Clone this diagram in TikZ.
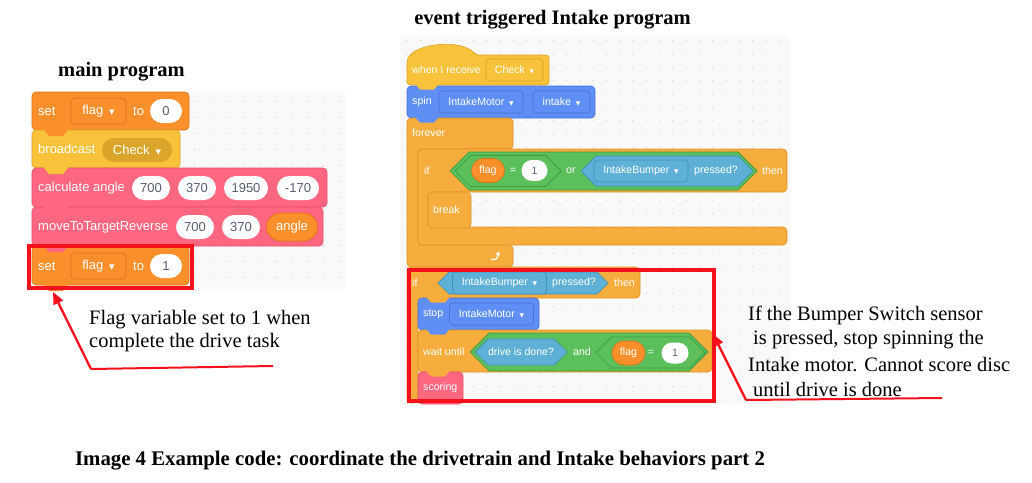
\documentclass[tikz,border=0pt]{standalone}
\usepackage{fontspec}
\usepackage{graphicx}
\setmainfont{Liberation Serif}
\newfontfamily\sansf{Liberation Sans}
\newfontfamily\dvf{DejaVu Sans}
\usetikzlibrary{shapes.misc,arrows.meta}
\definecolor{varor}{HTML}{FA8F2C}
\definecolor{varorD}{HTML}{DE7414}
\definecolor{evy}{HTML}{F8C23A}
\definecolor{evyD}{HTML}{DBA42A}
\definecolor{myp}{HTML}{FF6680}
\definecolor{mypD}{HTML}{E64D6A}
\definecolor{mot}{HTML}{5F8FF6}
\definecolor{motD}{HTML}{4A72D6}
\definecolor{ctl}{HTML}{F7AD3D}
\definecolor{ctlD}{HTML}{DB9322}
\definecolor{opg}{HTML}{5BC05B}
\definecolor{opgD}{HTML}{3E9B3E}
\definecolor{sen}{HTML}{5FB0D6}
\definecolor{senD}{HTML}{3F91BC}
\definecolor{bgc}{HTML}{F9F9F9}
\definecolor{dotc}{HTML}{D4D4D4}
\definecolor{numc}{HTML}{575E75}
\definecolor{annred}{HTML}{F5101E}
\newcommand\dd{\hspace{0.45em}{\dvf\scalebox{0.55}{▼}}}
\newcommand\hexa[6]{\path[fill=#5, draw=#6, line width=.7pt] (#1,{(#2+#4)/2}) -- ({#1+(#4-#2)/2},#2) -- ({#3-(#4-#2)/2},#2) -- (#3,{(#2+#4)/2}) -- ({#3-(#4-#2)/2},#4) -- ({#1+(#4-#2)/2},#4) -- cycle;}
\newcommand\tabL[3]{\fill[#3] ({#1+12},{#2-1.5}) -- ({#1+12},{#2}) -- ({#1+17},{#2+6}) -- ({#1+31},{#2+6}) -- ({#1+36},{#2}) -- ({#1+36},{#2-1.5}) -- cycle;}
\newcommand\tabR[3]{\fill[#3] ({#1+9},{#2-1.5}) -- ({#1+9},{#2}) -- ({#1+13},{#2+4.5}) -- ({#1+27},{#2+4.5}) -- ({#1+31},{#2}) -- ({#1+31},{#2-1.5}) -- cycle;}
\tikzset{
  blk/.style={rounded corners=4pt, line width=.6pt},
  lblL/.style={font=\sansf\fontsize{13}{15}\selectfont, text=white, inner sep=0pt, anchor=west},
  lblR/.style={font=\sansf\fontsize{10.6}{12}\selectfont, text=white, inner sep=0pt, anchor=west},
  ddL/.style={font=\sansf\fontsize{13}{15}\selectfont, text=white, rounded corners=4pt, minimum height=26pt, inner sep=0pt, line width=.7pt},
  ddR/.style={font=\sansf\fontsize{10.6}{12}\selectfont, text=white, rounded corners=3.5pt, minimum height=22pt, inner sep=0pt, line width=.7pt},
  pillL/.style={rounded rectangle, font=\sansf\fontsize{13}{15}\selectfont, text=white, minimum height=24pt, inner sep=0pt, line width=.7pt},
  pillR/.style={rounded rectangle, font=\sansf\fontsize{10.6}{12}\selectfont, text=white, minimum height=22pt, inner sep=0pt, line width=.7pt},
  wpillL/.style={pillL, fill=white, text=numc},
  wpillR/.style={pillR, fill=white, text=numc, minimum height=21pt},
  ann/.style={font=\fontsize{20.5}{24}\selectfont, inner sep=0pt, anchor=west},
  ttl/.style={font=\bfseries\fontsize{20.5}{24}\selectfont, inner sep=0pt},
  redbox/.style={draw=annred, line width=3.5pt, inner sep=0pt},
  redarrow/.style={draw=annred, line width=2.3pt, -{Triangle[length=12pt,width=10pt]}},
  redline/.style={draw=annred, line width=2pt}
}
\begin{document}
\begin{tikzpicture}[x=1pt,y=-1pt]
\useasboundingbox (0,0) rectangle (1032,482);
\fill[white] (0,0) rectangle (1032,482);
% ---------- backgrounds
\fill[bgc] (31,92) rectangle (345,289);
\foreach \i in {0,...,19} \foreach \j in {0,...,11} \fill[dotc] ({33.5+16.1*\i},{101.7+16*\j}) circle[radius=0.8pt];
\fill[bgc] (400,36) rectangle (790,404);
\foreach \i in {0,...,28} \foreach \j in {0,...,27} \fill[dotc] ({406.8+13.3*\i},{40.7+13.3*\j}) circle[radius=0.7pt];
% ---------- titles
\node[ttl] (title1) at (121.5,72) {main program};
\node[ttl] (title2) at (552.5,20) {event triggered Intake program};
% ---------- main program blocks
\path[blk, fill=varor, draw=varorD] (32,92) rectangle (189,130);
\path[blk, fill=evy, draw=evyD] (32,130) rectangle (180,168);
\path[blk, fill=myp, draw=mypD] (32,168) rectangle (327,207);
\path[blk, fill=myp, draw=mypD] (32,207) rectangle (323,246);
\path[blk, fill=varor, draw=varorD] (32,246) rectangle (189,285);
\tabL{32}{130}{varor}
\tabL{32}{168}{evy}
\tabL{32}{207}{myp}
\tabL{32}{246}{myp}
\tabL{32}{285}{varor}
\node[lblL] (set0) at (38,111) {set};
\node[ddL, fill=varor, draw=varorD, minimum width=55pt] (flag0) at (98.5,111) {flag\dd};
\node[lblL] (to0) at (133,111) {to};
\node[wpillL, minimum width=32pt] (zero) at (166,111) {0};
\node[lblL] (bc) at (38,149) {broadcast};
\node[pillL, fill=evyD, minimum width=70pt] (chk1) at (137,150) {Check\dd};
\node[lblL] (calc) at (38,188) {calculate angle};
\node[wpillL, minimum width=38pt] (c1) at (151,188) {700};
\node[wpillL, minimum width=38pt] (c2) at (197,188) {370};
\node[wpillL, minimum width=44pt] (c3) at (246,188) {1950};
\node[wpillL, minimum width=42pt] (c4) at (298,188) {-170};
\node[lblL] (mv) at (38,227) {moveToTargetReverse};
\node[wpillL, minimum width=38pt] (m1) at (195,227) {700};
\node[wpillL, minimum width=38pt] (m2) at (241,227) {370};
\node[pillL, fill=varor, draw=varorD, minimum width=51pt, minimum height=28pt] (ang) at (292,227) {angle};
\node[lblL] (set1) at (38,266) {set};
\node[ddL, fill=varor, draw=varorD, minimum width=55pt] (flag1) at (98.5,266) {flag\dd};
\node[lblL] (to1) at (133,266) {to};
\node[wpillL, minimum width=32pt] (one) at (166,266) {1};
% ---------- intake program blocks
\path[blk, rounded corners=3pt, fill=evy, draw=evyD] (407,85) -- (407,60) .. controls (416,43) and (462,39) .. (476,55) -- (549,55) -- (549,85) -- cycle;
\path[blk, fill=mot, draw=motD] (407,86) rectangle (595,118);
\path[blk, fill=ctl, draw=ctlD] (407,118) -- (513,118) -- (513,149) -- (418,149) -- (418,245) -- (513,245) -- (513,267) -- (407,267) -- cycle;
\path[blk, fill=ctl, draw=ctlD] (418,149) -- (787,149) -- (787,192) -- (428,192) -- (428,227) -- (787,227) -- (787,245) -- (418,245) -- cycle;
\path[blk, fill=ctl, draw=ctlD] (428,192) rectangle (471,228);
\path[blk, fill=ctl, draw=ctlD] (407,267) -- (640,267) -- (640,298) -- (418,298) -- (418,403) -- (407,403) -- cycle;
\path[blk, fill=mot, draw=motD] (418,298) rectangle (539,330);
\path[blk, fill=ctl, draw=ctlD] (418,330) rectangle (712,372);
\path[blk, fill=myp, draw=mypD] (418,372) rectangle (463,404);
\tabR{407}{85}{evy}
\tabR{407}{118}{mot}
\tabR{418}{298}{ctl}
\tabR{418}{330}{mot}
\tabR{418}{372}{ctl}
\node[lblR] (recv) at (412,70) {when I receive};
\node[ddR, fill=evy, draw=evyD, minimum width=57pt] (chk2) at (514.5,70) {Check\dd};
\node[lblR] (spin) at (412,102) {spin};
\node[ddR, fill=mot, draw=motD, minimum width=84pt] (im1) at (481,102) {IntakeMotor\dd};
\node[ddR, fill=mot, draw=motD, minimum width=57pt] (intk) at (561.5,102) {intake\dd};
\node[lblR] (forev) at (412,133) {forever};
\node[lblR] (if1) at (424,170.5) {if};
\hexa{450}{152}{757}{190}{opg}{opgD}
\hexa{455}{155.5}{561}{186.5}{opg}{opgD}
\node[pillR, fill=varor, draw=varorD, minimum width=33pt, minimum height=24pt] (fl1) at (488,170.5) {flag};
\node[lblR, anchor=center] (eq1) at (513,170.5) {=};
\node[wpillR, minimum width=26pt] (n1) at (534.5,170.5) {1};
\node[lblR] (or) at (566,170.5) {or};
\hexa{581}{156}{753}{186}{sen}{senD}
\node[ddR, fill=sen, draw=senD, minimum width=94pt] (ib1) at (641,171) {IntakeBumper\dd};
\node[lblR] (pr1) at (694,171) {pressed?};
\node[lblR] (then1) at (762,171) {then};
\node[lblR] (brk) at (433,209.5) {break};
\draw[white, line width=1.3pt, -{Triangle[length=3.5pt,width=4.5pt]}] (491,259.5) .. controls (497,259.5) .. (498.5,251.5);
\node[lblR] (if2) at (412,283) {if};
\hexa{438}{272}{608}{294}{sen}{senD}
\node[ddR, fill=sen, draw=senD, minimum width=94pt] (ib2) at (499.5,283) {IntakeBumper\dd};
\node[lblR] (pr2) at (552,283) {pressed?};
\node[lblR] (then2) at (614,283) {then};
\node[lblR] (stop) at (423,314) {stop};
\node[ddR, fill=mot, draw=motD, minimum width=84pt] (im2) at (491.5,314) {IntakeMotor\dd};
\node[lblR] (wait) at (423,352) {wait until};
\hexa{470}{333}{708}{371}{opg}{opgD}
\hexa{475}{339}{567}{365}{sen}{senD}
\node[lblR, anchor=center] (drv) at (521,352) {drive is done?};
\node[lblR, anchor=center] (and) at (582,352) {and};
\hexa{596}{337}{705}{368}{opg}{opgD}
\node[pillR, fill=varor, draw=varorD, minimum width=33pt, minimum height=24pt] (fl2) at (628.5,353) {flag};
\node[lblR, anchor=center] (eq2) at (651,353) {=};
\node[wpillR, minimum width=27pt] (n2) at (675,353) {1};
\node[lblR] (scor) at (423,388) {scoring};
% ---------- red annotation boxes and arrows
\node[redbox, minimum width=163pt, minimum height=42pt] (box1) at (110.5,267) {};
\node[redbox, minimum width=305pt, minimum height=131pt] (box2) at (561.5,335.5) {};
\coordinate (a1s) at (91,369);
\coordinate (a1t) at (53,292);
\coordinate (a1e) at (273,366);
\draw[redarrow] (a1s) -- (a1t);
\draw[redline] (a1s) -- (a1e);
\coordinate (a2s) at (746,400);
\coordinate (a2t) at (713,334);
\coordinate (a2e) at (942,398);
\draw[redarrow] (a2s) -- (a2t);
\draw[redline] (a2s) -- (a2e);
% ---------- annotation texts
\node[ann] (l1a) at (89,320) {Flag variable set to 1 when};
\node[ann] (l1b) at (89,343) {complete the drive task};
\node[ann] (r1) at (748,315) {If the Bumper Switch sensor};
\node[ann] (r2) at (753,340) {is pressed, stop spinning the};
\node[ann] (r3) at (748,364.5) {Intake motor. Cannot score disc};
\node[ann] (r4) at (753,389) {until drive is done};
% ---------- caption
\node[ttl, font=\bfseries\fontsize{20.8}{24}\selectfont] (cap) at (420,461) {Image 4 Example code: coordinate the drivetrain and Intake behaviors part 2};
\end{tikzpicture}
\end{document}
